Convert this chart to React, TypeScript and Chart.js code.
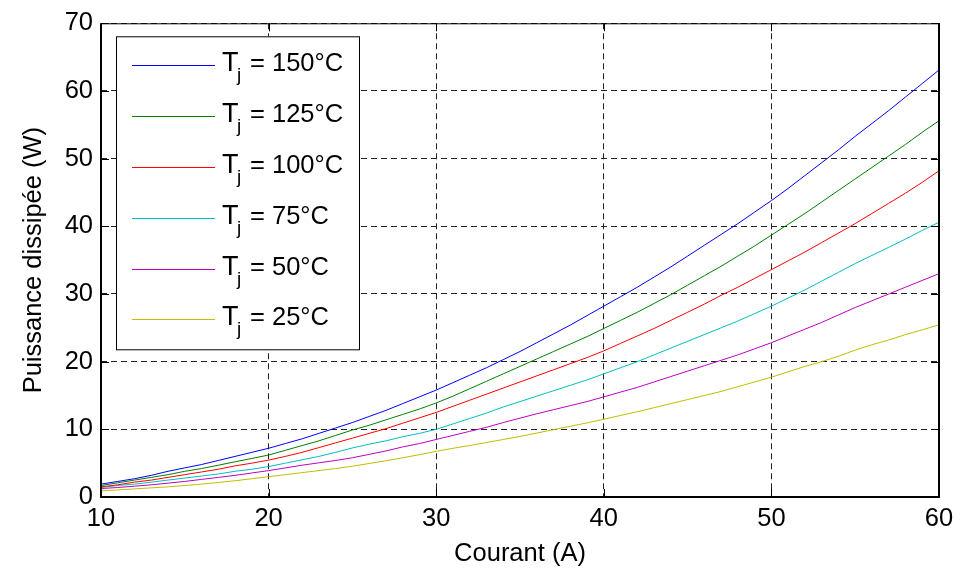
import React, { useEffect, useRef } from "react";
import { Chart, registerables } from "chart.js";

Chart.register(...registerables);

// Courant (A)
const current = [
  10, 11, 12, 13, 14, 15, 16, 17, 18, 19, 20, 21, 22, 23, 24, 25, 26, 27, 28, 29, 30,
  31, 32, 33, 34, 35, 36, 37, 38, 39, 40, 41, 42, 43, 44, 45, 46, 47, 48, 49, 50,
  51, 52, 53, 54, 55, 56, 57, 58, 59, 60,
];

// Puissance dissipée (W) per junction temperature
const tj150 = [
  1.9, 2.3, 2.7, 3.2, 3.8, 4.3, 4.8, 5.4, 6.0, 6.6, 7.2, 7.9, 8.6, 9.4, 10.2, 11.0, 11.9, 12.8, 13.8, 14.8, 15.8,
  16.9, 18.0, 19.1, 20.3, 21.5, 22.8, 24.1, 25.4, 26.8, 28.2, 29.6, 31.0, 32.5, 34.0, 35.6, 37.2, 38.8, 40.4, 42.1, 43.8,
  45.6, 47.5, 49.4, 51.3, 53.3, 55.2, 57.1, 59.1, 61.1, 63.1,
];
const tj125 = [
  1.7, 2.1, 2.5, 2.9, 3.3, 3.8, 4.2, 4.7, 5.2, 5.7, 6.2, 6.9, 7.6, 8.3, 9.1, 9.9, 10.6, 11.4, 12.2, 13.0, 13.9,
  14.9, 16.0, 17.1, 18.2, 19.3, 20.4, 21.5, 22.6, 23.7, 24.9, 26.1, 27.3, 28.6, 29.9, 31.3, 32.7, 34.1, 35.6, 37.1, 38.7,
  40.3, 41.9, 43.6, 45.3, 47.0, 48.7, 50.4, 52.1, 53.9, 55.6,
];
const tj100 = [
  1.5, 1.8, 2.2, 2.5, 2.9, 3.3, 3.7, 4.1, 4.6, 5.0, 5.45, 6.0, 6.6, 7.3, 8.0, 8.7, 9.4, 10.1, 10.9, 11.7, 12.5,
  13.4, 14.3, 15.2, 16.1, 17.0, 17.9, 18.8, 19.7, 20.6, 21.6, 22.7, 23.8, 24.9, 26.1, 27.3, 28.5, 29.8, 31.0, 32.3, 33.6,
  34.9, 36.2, 37.6, 39.0, 40.4, 41.9, 43.4, 44.9, 46.5, 48.2,
];
const tj75 = [
  1.4, 1.7, 1.9, 2.2, 2.5, 2.8, 3.1, 3.4, 3.8, 4.1, 4.5, 5.0, 5.5, 6.0, 6.6, 7.25, 7.8, 8.3, 8.9, 9.4, 10.0,
  10.8, 11.6, 12.4, 13.3, 14.1, 14.9, 15.7, 16.5, 17.3, 18.2, 19.1, 20.0, 21.0, 22.0, 23.0, 24.0, 25.0, 26.0, 27.1, 28.2,
  29.4, 30.6, 31.9, 33.2, 34.5, 35.7, 36.9, 38.1, 39.4, 40.6,
];
const tj50 = [
  1.25, 1.4, 1.6, 1.8, 2.05, 2.3, 2.6, 2.9, 3.2, 3.55, 3.9, 4.3, 4.7, 5.05, 5.4, 5.8, 6.3, 6.8, 7.4, 7.9, 8.5,
  9.1, 9.7, 10.3, 11.0, 11.65, 12.3, 12.9, 13.5, 14.1, 14.8, 15.5, 16.2, 17.0, 17.8, 18.6, 19.4, 20.2, 21.0, 21.9, 22.8,
  23.8, 24.8, 25.8, 26.9, 28.0, 29.0, 30.0, 31.0, 32.0, 33.0,
];
const tj25 = [
  0.9, 1.05, 1.2, 1.35, 1.5, 1.7, 1.9, 2.15, 2.4, 2.7, 3.0, 3.3, 3.6, 3.9, 4.2, 4.55, 4.95, 5.35, 5.8, 6.25, 6.75,
  7.2, 7.6, 8.05, 8.5, 8.95, 9.45, 9.95, 10.45, 10.95, 11.5, 12.05, 12.6, 13.2, 13.8, 14.4, 15.0, 15.6, 16.3, 17.0, 17.7,
  18.5, 19.3, 20.0, 20.8, 21.7, 22.5, 23.2, 24.0, 24.7, 25.45,
];

const seriesValues = [tj150, tj125, tj100, tj75, tj50, tj25];
const seriesLabels = ["150°C", "125°C", "100°C", "75°C", "50°C", "25°C"];
const seriesColors = ["#0000ff", "#008000", "#ff0000", "#00bfbf", "#bf00bf", "#bfbf00"];

const xTicks = [10, 20, 30, 40, 50, 60];
const yTicks = [0, 10, 20, 30, 40, 50, 60, 70];
const xTitle = "Courant (A)";
const yTitle = "Puissance dissipée (W)";

const FAMILY = "'Liberation Sans', Arial, Helvetica, sans-serif";
const FS = 25.5;

const framePlugin = {
  id: "matlabFrame",
  afterDatasetsDraw(chart: any) {
    const { ctx, chartArea, scales } = chart;
    const { left, right, top, bottom } = chartArea;
    const x = scales.x;
    const y = scales.y;
    ctx.save();
    ctx.strokeStyle = "#000";
    ctx.lineWidth = 1;
    const tl = 8;
    ctx.beginPath();
    for (const v of xTicks) {
      const px = Math.round(x.getPixelForValue(v)) + 0.5;
      ctx.moveTo(px, bottom);
      ctx.lineTo(px, bottom - tl);
      ctx.moveTo(px, top);
      ctx.lineTo(px, top + tl);
    }
    for (const v of yTicks) {
      const py = Math.round(y.getPixelForValue(v)) + 0.5;
      ctx.moveTo(left, py);
      ctx.lineTo(left + tl, py);
      ctx.moveTo(right, py);
      ctx.lineTo(right - tl, py);
    }
    ctx.stroke();
    // box
    ctx.beginPath();
    ctx.lineWidth = 1;
    ctx.moveTo(left, top + 0.5);
    ctx.lineTo(right, top + 0.5);
    ctx.stroke();
    ctx.beginPath();
    ctx.lineWidth = 2;
    ctx.moveTo(left, top);
    ctx.lineTo(left, bottom);
    ctx.lineTo(right, bottom);
    ctx.lineTo(right, top);
    ctx.stroke();
    ctx.restore();
  },
  afterDraw(chart: any) {
    const { ctx, chartArea } = chart;
    const bx = chartArea.left + 15;
    const by = chartArea.top + 13;
    const bw = 243;
    const bh = 313;
    ctx.save();
    ctx.fillStyle = "#fff";
    ctx.fillRect(bx, by, bw, bh);
    ctx.strokeStyle = "#000";
    ctx.lineWidth = 1;
    ctx.strokeRect(bx + 0.5, by + 0.5, bw, bh);
    const rowGap = 50.8;
    for (let i = 0; i < seriesLabels.length; i++) {
      const ry = Math.round(by + 29 + i * rowGap) + 0.5;
      ctx.strokeStyle = seriesColors[i];
      ctx.lineWidth = 1;
      ctx.beginPath();
      ctx.moveTo(bx + 16, ry);
      ctx.lineTo(bx + 99, ry);
      ctx.stroke();
      ctx.fillStyle = "#000";
      ctx.textBaseline = "alphabetic";
      ctx.textAlign = "left";
      ctx.font = `27px ${FAMILY}`;
      ctx.fillText("T", bx + 106, ry + 5.5);
      ctx.font = `19px ${FAMILY}`;
      ctx.fillText("j", bx + 121, ry + 15.5);
      ctx.font = `${FS}px ${FAMILY}`;
      ctx.fillText("= " + seriesLabels[i], bx + 134, ry + 5.5);
    }
    ctx.restore();
  },
};

export default function App() {
  const ref = useRef<HTMLCanvasElement | null>(null);
  useEffect(() => {
    if (!ref.current) return;
    Chart.defaults.font.family = FAMILY;
    Chart.defaults.color = "#000";
    const chart = new Chart(ref.current, {
      type: "line",
      data: {
        labels: current,
        datasets: seriesValues.map((vals, i) => ({
          label: "Tj = " + seriesLabels[i],
          data: vals.map((v, k) => ({ x: current[k], y: v })),
          borderColor: seriesColors[i],
          backgroundColor: seriesColors[i],
          borderWidth: 1,
          pointRadius: 0,
          tension: 0,
          fill: false,
        })),
      },
      options: {
        animation: false,
        responsive: false,
        devicePixelRatio: 1,
        events: [],
        layout: { padding: { left: 0, top: 22, right: 32, bottom: 0 } },
        plugins: {
          legend: { display: false },
          tooltip: { enabled: false },
          title: { display: false },
        },
        scales: {
          x: {
            type: "linear",
            min: 10,
            max: 60,
            afterFit: (s: any) => {
              s.height = 71;
            },
            ticks: {
              stepSize: 10,
              padding: 7,
              font: { size: FS, family: FAMILY },
              color: "#000",
              maxRotation: 0,
            },
            grid: { color: "#222", lineWidth: 1, drawTicks: false },
            border: { display: false, dash: [6, 4] },
            title: {
              display: true,
              text: xTitle,
              color: "#000",
              font: { size: FS, family: FAMILY, lineHeight: 1 },
              padding: { top: 0, bottom: 1 },
            },
          },
          y: {
            type: "linear",
            min: 0,
            max: 70,
            afterFit: (s: any) => {
              s.width = 101;
            },
            ticks: {
              stepSize: 10,
              padding: 8,
              font: { size: FS, family: FAMILY },
              color: "#000",
            },
            grid: { color: "#222", lineWidth: 1, drawTicks: false },
            border: { display: false, dash: [6, 4] },
            title: {
              display: true,
              text: yTitle,
              color: "#000",
              font: { size: FS, family: FAMILY, lineHeight: 1 },
              padding: { top: 21, bottom: 0 },
            },
          },
        },
      },
      plugins: [framePlugin],
    });
    return () => chart.destroy();
  }, []);
  return (
    <div style={{ position: "fixed", left: 0, top: 0, width: 971, height: 568, background: "#fff" }}>
      <canvas ref={ref} width={971} height={568} style={{ display: "block", width: 971, height: 568 }} />
    </div>
  );
}
